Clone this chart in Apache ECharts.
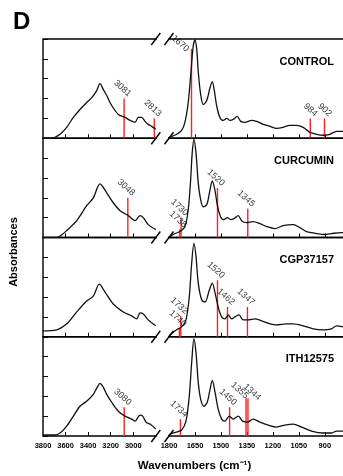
<!DOCTYPE html>
<html>
<head>
<meta charset="utf-8">
<script src="https://cdn.jsdelivr.net/npm/echarts@6/dist/echarts.min.js"></script>
<style>
html, body { margin: 0; padding: 0; background: #fff; }
#mainChart { width: 343px; height: 476px; }
</style>
</head>
<body>
<div id="mainChart"></div>
<script>
// FTIR spectra, four stacked panels, x axis broken between ~2800 and 1800 cm-1

var panelNames = ['CONTROL', 'CURCUMIN', 'CGP37157', 'ITH12575'];
var highTicks = [3800, 3600, 3400, 3200, 3000];
var lowTicks = [1800, 1650, 1500, 1350, 1200, 1050, 900];

// [wavenumber, absorbance]
var controlHigh = [[3800, 0], [3740, 0], [3694, 0.01], [3649, 0.04], [3590, 0.11], [3531, 0.21], [3472, 0.29],
    [3413, 0.36], [3368, 0.41], [3324, 0.48], [3295, 0.55], [3265, 0.49], [3235, 0.43], [3191, 0.33],
    [3132, 0.24], [3073, 0.21], [3028, 0.18], [2984, 0.16], [2955, 0.21], [2925, 0.21], [2896, 0.17],
    [2867, 0.14], [2836, 0.12], [2800, 0.09]];
var controlLow = [[1800, 0], [1794, 0.01], [1756, 0.04], [1727, 0.08], [1708, 0.16], [1689, 0.36], [1673, 0.67],
    [1660, 0.93], [1650, 0.99], [1640, 0.9], [1631, 0.67], [1617, 0.44], [1602, 0.34], [1582, 0.38],
    [1563, 0.51], [1550, 0.57], [1539, 0.49], [1525, 0.33], [1506, 0.21], [1487, 0.18], [1467, 0.2],
    [1448, 0.18], [1429, 0.19], [1406, 0.22], [1386, 0.17], [1362, 0.16], [1323, 0.18], [1294, 0.17],
    [1256, 0.14], [1217, 0.12], [1179, 0.1], [1141, 0.11], [1102, 0.13], [1063, 0.13], [1025, 0.11],
    [987, 0.06], [948, 0.04], [910, 0.03], [871, 0.04], [832, 0.07], [795, 0.07]];
var controlPeaks = [[3081, 0.40], [2813, 0.20], [1670, 0.90], [984, 0.20], [902, 0.20]];

var curcuminHigh = [[3800, 0], [3676, 0], [3630, 0.03], [3590, 0.07], [3501, 0.17], [3413, 0.32], [3354, 0.40],
    [3295, 0.54], [3235, 0.45], [3177, 0.35], [3117, 0.27], [3044, 0.22], [2984, 0.17], [2940, 0.22],
    [2911, 0.20], [2867, 0.13], [2800, 0.08]];
var curcuminLow = [[1800, 0], [1794, 0.01], [1765, 0.04], [1737, 0.06], [1708, 0.11], [1689, 0.28], [1675, 0.58],
    [1666, 0.85], [1656, 0.99], [1644, 0.85], [1631, 0.55], [1617, 0.38], [1602, 0.31], [1582, 0.33],
    [1563, 0.48], [1550, 0.57], [1535, 0.48], [1521, 0.33], [1502, 0.21], [1483, 0.18], [1464, 0.2],
    [1444, 0.18], [1425, 0.19], [1400, 0.22], [1381, 0.17], [1352, 0.15], [1314, 0.16], [1275, 0.14],
    [1236, 0.11], [1188, 0.09], [1141, 0.12], [1083, 0.13], [1044, 0.1], [1006, 0.06], [948, 0.04],
    [900, 0.03], [861, 0.04], [804, 0.05], [795, 0.05]];
var curcuminPeaks = [[3048, 0.40], [1738, 0.08], [1730, 0.20], [1520, 0.50], [1345, 0.29]];

var cgpHigh = [[3800, 0.06], [3679, 0.07], [3590, 0.13], [3501, 0.25], [3413, 0.36], [3354, 0.41], [3301, 0.53],
    [3250, 0.45], [3177, 0.33], [3088, 0.25], [3014, 0.21], [2969, 0.18], [2940, 0.24], [2911, 0.23],
    [2867, 0.17], [2800, 0.11]];
var cgpLow = [[1800, 0.01], [1794, 0.02], [1756, 0.07], [1727, 0.1], [1702, 0.17], [1683, 0.4], [1669, 0.74],
    [1656, 0.94], [1644, 0.81], [1631, 0.54], [1611, 0.37], [1592, 0.35], [1567, 0.47], [1550, 0.54],
    [1535, 0.45], [1516, 0.3], [1496, 0.2], [1477, 0.18], [1458, 0.22], [1438, 0.18], [1419, 0.2],
    [1396, 0.22], [1371, 0.17], [1342, 0.17], [1304, 0.18], [1265, 0.16], [1217, 0.13], [1179, 0.12],
    [1121, 0.13], [1083, 0.13], [1025, 0.11], [967, 0.08], [910, 0.07], [861, 0.08], [832, 0.11], [795, 0.1]];
var cgpPeaks = [[1740, 0.08], [1732, 0.21], [1520, 0.57], [1462, 0.30], [1347, 0.30]];

var ithHigh = [[3800, 0.01], [3694, 0.01], [3649, 0.03], [3590, 0.1], [3531, 0.2], [3472, 0.3], [3413, 0.35],
    [3354, 0.42], [3319, 0.49], [3295, 0.53], [3265, 0.49], [3235, 0.42], [3191, 0.34], [3132, 0.25],
    [3073, 0.2], [3014, 0.17], [2984, 0.15], [2940, 0.21], [2916, 0.2], [2887, 0.14], [2851, 0.12], [2800, 0.07]];
var ithLow = [[1800, 0.01], [1794, 0.02], [1756, 0.04], [1727, 0.06], [1702, 0.15], [1683, 0.4], [1669, 0.74],
    [1656, 0.98], [1644, 0.84], [1631, 0.54], [1617, 0.37], [1598, 0.3], [1579, 0.34], [1563, 0.47],
    [1550, 0.56], [1535, 0.45], [1516, 0.27], [1496, 0.17], [1477, 0.15], [1452, 0.2], [1429, 0.17],
    [1400, 0.2], [1375, 0.15], [1348, 0.14], [1314, 0.17], [1275, 0.14], [1227, 0.11], [1179, 0.09],
    [1131, 0.11], [1083, 0.12], [1034, 0.09], [977, 0.05], [910, 0.03], [861, 0.03], [832, 0.05], [795, 0.05]];
var ithPeaks = [[3080, 0.29], [1734, 0.17], [1450, 0.29], [1355, 0.38], [1344, 0.38]];

var highSpectra = [controlHigh, curcuminHigh, cgpHigh, ithHigh];
var lowSpectra = [controlLow, curcuminLow, cgpLow, ithLow];
var peakLists = [controlPeaks, curcuminPeaks, cgpPeaks, ithPeaks];

// layout
var plotLeft = 43;
var highWidth = 112.8;     // 3800 -> 2800
var lowLeft = 169;         // 1800 -> 795 runs to the right edge
var panelTop = 39;
var panelHeight = 99.25;

// labels that sit apart from the default spot
var labelNudge = { 'CONTROL-1670': [-4, 10], 'ITH12575-1355': [-2, 5], 'ITH12575-1344': [7, -1] };

var myChart = echarts.init(document.getElementById('mainChart'));

var grid = [], xAxis = [], yAxis = [], series = [], title = [], graphic = [];
var fontFam = '"Liberation Sans", Arial, sans-serif';

for (var i = 0; i < 4; i++) {
    var panelY = panelTop + i * panelHeight;
    var last = i == 3;
    // frame
    grid.push({ left: plotLeft, right: -3, top: panelY, height: panelHeight, show: true,
        borderColor: '#000', borderWidth: 1.4, backgroundColor: 'transparent', outerBoundsMode: 'none' });
    grid.push({ left: plotLeft, width: highWidth, top: panelY, height: panelHeight, outerBoundsMode: 'none' });
    grid.push({ left: lowLeft, right: 0, top: panelY, height: panelHeight, outerBoundsMode: 'none' });

    var g = i * 3;
    xAxis.push({ gridIndex: g, type: 'value', show: last, min: 0, max: 1,
        name: last ? 'Wavenumbers (cm\u207B\u00B9)' : '', nameLocation: 'middle', nameGap: 24,
        nameTextStyle: { fontSize: 11.5, fontWeight: 'bold', color: '#000', fontFamily: fontFam },
        axisLine: { show: false }, axisTick: { show: false }, axisLabel: { show: false }, splitLine: { show: false } });
    yAxis.push({ gridIndex: g, type: 'value', show: false, min: 0, max: 1 });

    var labelStyle = { show: last, fontSize: 7.5, fontWeight: 'bold', color: '#000', margin: 6, fontFamily: fontFam,
        formatter: function (v) { return String(v); } };

    xAxis.push({ gridIndex: g + 1, type: 'value', min: 2800, max: 3800, inverse: true,
        axisLine: { show: false }, splitLine: { show: false },
        axisTick: { show: true, inside: true, length: 4, customValues: [3600, 3400, 3200, 3000],
            lineStyle: { color: '#000', width: 1 } },
        axisLabel: Object.assign({ customValues: highTicks }, labelStyle) });
    yAxis.push({ gridIndex: g + 1, type: 'value', min: 0, max: 1, interval: 0.2,
        axisLine: { show: false }, splitLine: { show: false }, axisLabel: { show: false },
        axisTick: { show: true, inside: true, length: 5, lineStyle: { color: '#000', width: 1 } } });

    xAxis.push({ gridIndex: g + 2, type: 'value', min: 795, max: 1800, inverse: true,
        axisLine: { show: false }, splitLine: { show: false },
        axisTick: { show: true, inside: true, length: 4, customValues: [1650, 1500, 1350, 1200, 1050, 900],
            lineStyle: { color: '#000', width: 1 } },
        axisLabel: Object.assign({ customValues: lowTicks }, labelStyle) });
    yAxis.push({ gridIndex: g + 2, type: 'value', min: 0, max: 1, show: false });

    // spectra
    [highSpectra[i], lowSpectra[i]].forEach(function (d, k) {
        series.push({ type: 'line', xAxisIndex: g + 1 + k, yAxisIndex: g + 1 + k, data: d,
            smooth: 0.3, symbol: 'none', silent: true,
            lineStyle: { color: '#111', width: 1.3 } });
    });

    // assigned bands: red lines with rotated labels
    var hi = peakLists[i].filter(function (p) { return p[0] > 2000; });
    var lo = peakLists[i].filter(function (p) { return p[0] <= 2000; });
    [hi, lo].forEach(function (pk, k) {
        if (!pk.length) return;
        series.push({ type: 'bar', xAxisIndex: g + 1 + k, yAxisIndex: g + 1 + k, data: pk,
            barWidth: 1.4, silent: true, itemStyle: { color: '#ff1f1f' }, z: 3 });
        series.push({ type: 'scatter', xAxisIndex: g + 1 + k, yAxisIndex: g + 1 + k, symbolSize: 0, silent: true, z: 4,
            data: pk.map(function (p) {
                var n = labelNudge[panelNames[i] + '-' + p[0]] || [0, 0];
                return { value: p, label: { offset: [2 + n[0], -2 + n[1]] } };
            }),
            label: { show: true, position: 'inside', formatter: function (p) { return String(p.value[0]); },
                rotate: -42, align: 'right', verticalAlign: 'bottom',
                fontSize: 9, color: '#000', fontFamily: fontFam } });
    });

    title.push({ text: panelNames[i], right: 9, top: panelY + 17, padding: 0,
        textStyle: { fontSize: 11, fontWeight: 'bold', color: '#000', fontFamily: fontFam } });
}

// axis break marks on every horizontal border
for (var b = 0; b <= 4; b++) {
    var by = panelTop + b * panelHeight;
    var xa = plotLeft + highWidth, xb = lowLeft;
    graphic.push({ type: 'rect', z: 100, shape: { x: xa + 1, y: by - 1.5, width: xb - xa - 2, height: 3 },
        style: { fill: '#fff' } });
    [xa, xb].forEach(function (cx) {
        graphic.push({ type: 'line', z: 101, shape: { x1: cx - 4.5, y1: by + 6, x2: cx + 4.5, y2: by - 6 },
            style: { stroke: '#000', lineWidth: 1.4 } });
    });
}
graphic.push({ type: 'text', z: 100, left: 13, top: 10,
    style: { text: 'D', fontSize: 24, fontWeight: 'bold', fill: '#000', fontFamily: fontFam } });
graphic.push({ type: 'text', z: 100, x: 13.5, y: 252, rotation: Math.PI / 2,
    style: { text: 'Absorbances', fontSize: 11, fontWeight: 'bold', fill: '#000', fontFamily: fontFam,
        align: 'center', verticalAlign: 'middle' } });

myChart.setOption({
    animation: false,
    backgroundColor: '#fff',
    title: title,
    grid: grid,
    xAxis: xAxis,
    yAxis: yAxis,
    series: series,
    graphic: graphic
});
</script>
</body>
</html>
